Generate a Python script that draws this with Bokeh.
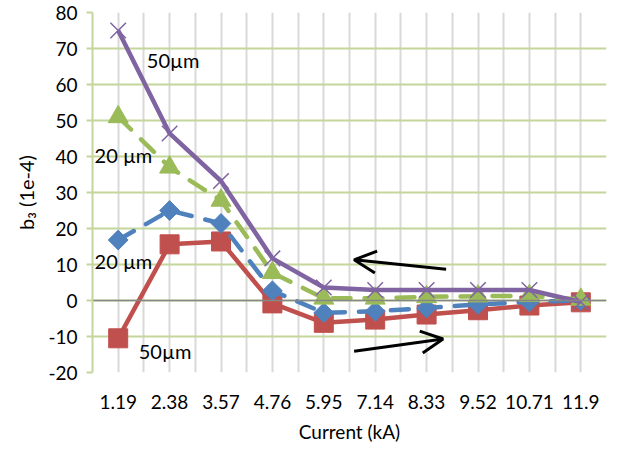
from math import pi
from bokeh.plotting import figure
from bokeh.models import Range1d, FixedTicker, Span, Label, Arrow, OpenHead, ColumnDataSource, Title
from bokeh.embed import file_html
from bokeh.resources import INLINE

# ---- data ----
categories = ["1.19", "2.38", "3.57", "4.76", "5.95", "7.14", "8.33", "9.52", "10.71", "11.9"]
red_50um = [-10.5, 15.6, 16.4, -0.8, -6.2, -5.3, -3.9, -2.7, -1.4, -0.5]
blue_20um = [16.8, 25.0, 21.4, 2.7, -3.4, -3.0, -2.1, -1.1, -0.4, 0.0]
green_20um = [51.0, 37.0, 27.8, 7.7, 0.6, 0.6, 1.0, 1.2, 1.3, 0.3]
purple_50um = [75.0, 46.4, 33.2, 11.7, 3.6, 2.9, 2.9, 2.9, 2.9, -0.4]
y_ticks = [-20, -10, 0, 10, 20, 30, 40, 50, 60, 70, 80]

xs = list(range(1, len(categories) + 1))
src = ColumnDataSource(dict(x=xs, red=red_50um, blue=blue_20um, green=green_20um, purple=purple_50um))

FONT = "Lato"
RED = "#c0504d"
BLUE = "#4f81bd"
GREEN = "#9bbb59"
PURPLE = "#8064a2"
GRID_GREEN = "#c3d69b"
GRID_GRAY = "#d9d9d9"

p = figure(width=608, height=445, output_backend="svg", toolbar_location=None,
           x_range=Range1d(0.5, len(categories) + 0.5), y_range=Range1d(-20, 80),
           min_border_left=92, min_border_right=2, min_border_top=12, min_border_bottom=68)
p.outline_line_color = None
p.background_fill_color = "white"

# grids
p.xgrid.ticker = FixedTicker(ticks=[i * 0.5 for i in range(1, 2 * len(categories) + 2)])
p.xgrid.grid_line_color = GRID_GRAY
p.xgrid.grid_line_width = 2
p.ygrid.ticker = FixedTicker(ticks=y_ticks)
p.ygrid.grid_line_color = GRID_GREEN
p.ygrid.grid_line_width = 2

# x axis
p.xaxis.ticker = FixedTicker(ticks=xs)
p.xaxis.major_label_overrides = {x: c for x, c in zip(xs, categories)}
p.xaxis.axis_line_color = None
p.xaxis.major_tick_line_color = None
p.xaxis.minor_tick_line_color = None
p.xaxis.major_label_standoff = 16
p.xaxis.major_label_text_font = FONT
p.xaxis.major_label_text_font_size = "19px"
p.xaxis.major_label_text_color = "black"
p.xaxis.axis_label = "Current (kA)"
p.xaxis.axis_label_text_font = FONT
p.xaxis.axis_label_text_font_size = "19px"
p.xaxis.axis_label_text_font_style = "normal"
p.xaxis.axis_label_text_color = "black"
p.xaxis.axis_label_standoff = 8

# y axis
p.yaxis.ticker = FixedTicker(ticks=y_ticks)
p.yaxis.major_label_overrides = {t: str(t) for t in y_ticks}
p.yaxis.axis_line_color = GRID_GREEN
p.yaxis.axis_line_width = 2
p.yaxis.major_tick_line_color = GRID_GREEN
p.yaxis.major_tick_line_width = 2
p.yaxis.major_tick_out = 6
p.yaxis.major_tick_in = 0
p.yaxis.minor_tick_line_color = None
p.yaxis.major_label_standoff = 9
p.yaxis.major_label_text_font = FONT
p.yaxis.major_label_text_font_size = "19px"
p.yaxis.major_label_text_color = "black"

# y axis title (side title so it can sit above centre like the original)
ytitle = Title(text="b₃ (1e-4)", align="center", offset=42, standoff=16,
               text_font=FONT, text_font_size="20px", text_font_style="normal",
               text_color="black")
p.add_layout(ytitle, "left")

# zero line
zero = Span(location=0, dimension="width", line_color="#868686", line_width=1.5, level="glyph")
p.add_layout(zero)

LW = 4.5
DASH = "18 14"
# red 50um
p.line("x", "red", source=src, line_color=RED, line_width=LW, line_join="round")
p.scatter("x", "red", source=src, marker="square", size=19, fill_color=RED, line_color=RED)
# blue 20um
p.line("x", "blue", source=src, line_color=BLUE, line_width=LW, line_dash=DASH, line_cap="round")
p.scatter("x", "blue", source=src, marker="square", angle=pi / 4, size=14, fill_color=BLUE, line_color=BLUE)
# green 20um
p.line("x", "green", source=src, line_color=GREEN, line_width=LW, line_dash=DASH, line_cap="round")
p.scatter("x", "green", source=src, marker="triangle", size=20, fill_color=GREEN, line_color=GREEN)
# purple 50um
p.line("x", "purple", source=src, line_color=PURPLE, line_width=LW, line_join="round")
p.scatter("x", "purple", source=src, marker="x", size=22, line_color=PURPLE, line_width=1.5)

# annotations
def txt(x, y, s, size="20px"):
    p.add_layout(Label(x=x, y=y, text=s, text_font=FONT, text_font_size=size,
                       text_color="black", text_align="left", text_baseline="middle"))

txt(1.556, 66.8, "50µm")
txt(0.54, 40.3, "20 µm")
txt(0.54, 11.0, "20 µm")
txt(1.40, -13.9, "50µm")

# arrows
p.add_layout(Arrow(end=OpenHead(size=22, line_width=3, line_color="black"),
                   x_start=7.38, y_start=8.7, x_end=5.59, y_end=11.3,
                   line_width=3, line_color="black"))
p.add_layout(Arrow(end=OpenHead(size=22, line_width=3, line_color="black"),
                   x_start=5.59, y_start=-14.1, x_end=7.32, y_end=-10.7,
                   line_width=3, line_color="black"))

open("out.html", "w").write(file_html(p, INLINE))
